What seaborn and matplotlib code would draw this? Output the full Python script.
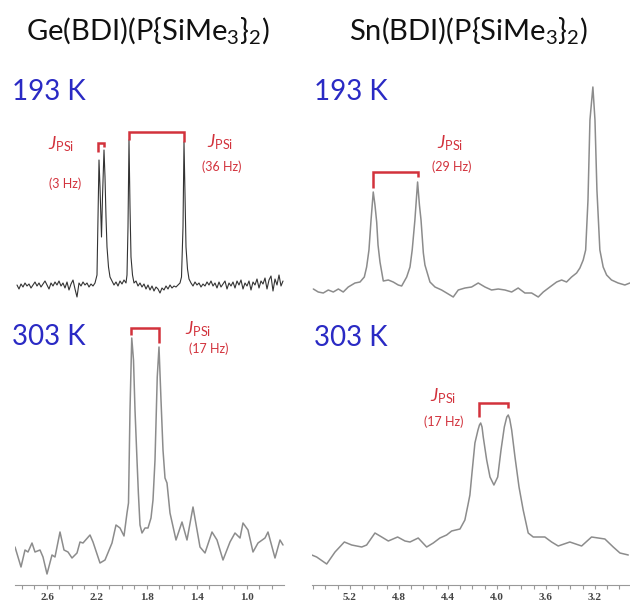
import numpy as np
import matplotlib.pyplot as plt
import seaborn as sns
from matplotlib.ticker import MultipleLocator

# 31P NMR traces (chemical shift in ppm, intensity in arbitrary units)
ge193_ppm = [2.840, 2.824, 2.808, 2.792, 2.776, 2.760, 2.744, 2.728, 2.712, 2.696,
             2.680, 2.664, 2.648, 2.632, 2.616, 2.600, 2.584, 2.568, 2.552, 2.536,
             2.520, 2.504, 2.488, 2.472, 2.456, 2.440, 2.424, 2.408, 2.392, 2.376,
             2.360, 2.344, 2.328, 2.312, 2.296, 2.280, 2.264, 2.248, 2.232, 2.216,
             2.200, 2.192, 2.184, 2.176, 2.164, 2.156, 2.144, 2.136, 2.128, 2.120,
             2.108, 2.096, 2.080,
             2.064, 2.048, 2.032, 2.016, 2.000, 1.984, 1.968,
             1.960, 1.952, 1.944, 1.936, 1.928, 1.916, 1.904,
             1.888, 1.872, 1.856, 1.840, 1.824, 1.808, 1.792, 1.776, 1.760, 1.744,
             1.728, 1.712, 1.696, 1.680, 1.664, 1.648, 1.632, 1.616, 1.600, 1.584,
             1.568, 1.552, 1.536,
             1.524, 1.512, 1.504, 1.496, 1.488, 1.476, 1.464, 1.448,
             1.432, 1.416, 1.400, 1.384, 1.368, 1.352, 1.336, 1.320, 1.304, 1.288,
             1.272, 1.256, 1.240, 1.224, 1.208, 1.192, 1.176, 1.160, 1.144, 1.128,
             1.112, 1.096, 1.080, 1.064, 1.048, 1.032, 1.016, 1.000, 0.984, 0.968,
             0.952, 0.936, 0.920, 0.904, 0.888, 0.872, 0.856, 0.840, 0.824, 0.808,
             0.792, 0.776, 0.760, 0.744, 0.728, 0.712]
ge193_int = [2, -2, 3, 0, 4, 1, 3, -1, 2, 5,
             1, 4, 0, 3, 6, 2, -2, 4, 1, 5,
             2, 6, 1, 4, -1, 5, -3, 3, 7, -2,
             -10, 4, 1, 5, 2, 4, 0, 3, 1, 4,
             12, 70, 127, 100, 50, 90, 137, 110, 70, 40,
             20, 10, 6,
             2, 5, 1, 6, 3, 7, 4,
             12, 60, 147, 80, 30, 12, 4,
             6, 1, 4, 0, 3, -2, 2, -3, 1, -4,
             0, -2, -6, -1, -3, 1, -2, 2, -1, 1,
             0, 2, 4,
             10, 60, 145, 90, 40, 18, 8, 4,
             1, 5, 2, 4, 0, 3, 1, 5, 2, 6,
             1, 4, -1, 5, 0, 3, 6, -2, 4, 1,
             5, -1, 6, 2, 7, -2, 4, 1, 6, -3,
             5, 2, 8, -1, 6, 3, 9, -2, 7, 11,
             -4, 8, 2, 12, 1, 6]

ge303_ppm = [2.856, 2.808, 2.776, 2.752, 2.720, 2.696, 2.656, 2.632, 2.600, 2.560,
             2.536, 2.496, 2.464, 2.432, 2.400, 2.360, 2.336, 2.312, 2.256, 2.232,
             2.176, 2.136, 2.080, 2.048, 2.016, 1.984, 1.960, 1.948, 1.936, 1.922,
             1.908, 1.896, 1.880, 1.869, 1.856, 1.840, 1.816, 1.792, 1.768, 1.752,
             1.736, 1.718, 1.704, 1.688, 1.672, 1.656, 1.640, 1.616, 1.568, 1.520,
             1.480, 1.432, 1.376, 1.336, 1.280, 1.240, 1.192, 1.136, 1.096, 1.056,
             1.032, 0.992, 0.952, 0.912, 0.856, 0.832, 0.776, 0.736, 0.712]
ge303_int = [38, 18, 35, 33, 42, 33, 35, 28, 11, 30,
             28, 53, 35, 33, 27, 32, 43, 42, 50, 43,
             22, 25, 42, 60, 57, 49, 72, 82, 175, 247,
             225, 175, 125, 92, 60, 52, 57, 57, 67, 85,
             125, 208, 238, 185, 135, 107, 102, 72, 45, 63,
             45, 78, 38, 32, 53, 45, 25, 43, 52, 47,
             62, 55, 33, 42, 47, 53, 27, 45, 40]

sn193_ppm = [5.499, 5.459, 5.418, 5.377, 5.336, 5.295, 5.255, 5.214, 5.159, 5.118,
             5.083, 5.064, 5.045, 5.028, 5.010, 4.996, 4.982, 4.971, 4.955, 4.928,
             4.887, 4.847, 4.806, 4.778, 4.737, 4.710, 4.692, 4.670, 4.648, 4.633,
             4.620, 4.601, 4.588, 4.547, 4.506, 4.452, 4.411, 4.357, 4.316, 4.261,
             4.207, 4.153, 4.098, 4.044, 3.990, 3.935, 3.880, 3.827, 3.772, 3.717,
             3.663, 3.622, 3.568, 3.513, 3.472, 3.432, 3.391, 3.350, 3.323, 3.296,
             3.276, 3.257, 3.241, 3.217, 3.200, 3.184, 3.160, 3.133, 3.105, 3.065,
             3.011, 2.956, 2.915]
sn193_int = [1, -2, -3, 0, -2, 1, -2, 3, 7, 8,
             13, 23, 40, 70, 98, 85, 68, 45, 28, 9,
             10, 8, 5, 4, 13, 23, 40, 70, 108, 85,
             70, 37, 25, 8, 3, 0, -3, -7, 0, 2,
             3, 7, 3, 0, 1, 0, -2, 2, -3, -3,
             -7, -2, 3, 8, 10, 8, 13, 17, 22, 30,
             40, 90, 170, 203, 170, 100, 40, 23, 15, 10,
             7, 5, 7]

sn303_ppm = [5.512, 5.472, 5.390, 5.322, 5.246, 5.186, 5.104, 5.064, 4.996, 4.941,
             4.887, 4.811, 4.751, 4.710, 4.643, 4.574, 4.520, 4.466, 4.411, 4.370,
             4.302, 4.262, 4.237, 4.221, 4.204, 4.180, 4.155, 4.143, 4.133, 4.122,
             4.112, 4.084, 4.057, 4.025, 3.994, 3.967, 3.940, 3.920, 3.908, 3.896,
             3.880, 3.853, 3.820, 3.786, 3.745, 3.704, 3.609, 3.554, 3.500, 3.405,
             3.309, 3.228, 3.119, 3.051, 2.996, 2.928]
sn303_int = [30, 28, 21, 33, 43, 40, 38, 40, 52, 48,
             44, 48, 44, 43, 47, 38, 42, 47, 50, 54,
             56, 65, 80, 90, 112, 142, 155, 160, 162, 158,
             148, 125, 108, 100, 108, 135, 158, 168, 170, 166,
             155, 128, 98, 75, 52, 48, 48, 43, 39, 43,
             39, 48, 46, 38, 32, 30]

ge_ticks = [2.6, 2.2, 1.8, 1.4, 1.0]
sn_ticks = [5.2, 4.8, 4.4, 4.0, 3.6, 3.2]

titles = ["Ge(BDI)(P{SiMe$_3$}$_2$)", "Sn(BDI)(P{SiMe$_3$}$_2$)"]
temps = ["193 K", "303 K"]
# coupling labels: ppm of the bracket legs and the J value
ge193_j = [(2.188, 2.142, "3"), (1.944, 1.502, "36")]
ge303_j = [(1.928, 1.702, "17")]
sn193_j = [(5.010, 4.648, "29")]
sn303_j = [(4.145, 3.913, "17")]

sns.set_theme(style="white")
plt.rcParams['font.family'] = ['Lato', 'DejaVu Sans']
plt.rcParams['mathtext.fontset'] = 'custom'
plt.rcParams['mathtext.rm'] = 'Lato'
plt.rcParams['mathtext.it'] = 'Lato:italic'
plt.rcParams['mathtext.bf'] = 'Lato:bold'

red = '#d2323c'
blue = '#2a2ac4'

fig = plt.figure(figsize=(6.3, 6.06), dpi=100)
ax_ge = fig.add_axes([15 / 630, 21 / 606, 269 / 630, 585 / 606])
ax_sn = fig.add_axes([312 / 630, 21 / 606, 318 / 630, 585 / 606])

# upper (193 K) trace sits on top of the 303 K one
ge_offset = 298
sn_offset = 295

sns.lineplot(x=ge193_ppm, y=np.array(ge193_int) + ge_offset, ax=ax_ge,
             color='#333333', lw=0.8, estimator=None, sort=False)
sns.lineplot(x=ge303_ppm, y=ge303_int, ax=ax_ge,
             color='#8c8c8c', lw=1.1, estimator=None, sort=False)
sns.lineplot(x=sn193_ppm, y=np.array(sn193_int) + sn_offset, ax=ax_sn,
             color='#8c8c8c', lw=1.1, estimator=None, sort=False)
sns.lineplot(x=sn303_ppm, y=sn303_int, ax=ax_sn,
             color='#8c8c8c', lw=1.1, estimator=None, sort=False)


def bracket(ax, x1, x2, top, leg1, leg2):
    ax.plot([x1, x1, x2, x2], [leg1, top, top, leg2], color=red, lw=1.8,
            solid_joinstyle='miter', solid_capstyle='butt')


def jlabel(ax, x, y, hz, x2, y2):
    ax.text(x, y, r"$J_{\mathrm{PSi}}$", color=red, fontsize=13,
            ha='center', va='center')
    ax.text(x2, y2, f"({hz} Hz)", color=red, fontsize=9,
            ha='center', va='center')


# Ge 193 K
bracket(ax_ge, ge193_j[0][0], ge193_j[0][1], 442, 433, 438)
bracket(ax_ge, ge193_j[1][0], ge193_j[1][1], 453, 445, 443)
jlabel(ax_ge, 2.488, 441, ge193_j[0][2], 2.456, 401)
jlabel(ax_ge, 1.216, 443, ge193_j[1][2], 1.200, 418)
# Ge 303 K
bracket(ax_ge, ge303_j[0][0], ge303_j[0][1], 257, 250, 242)
jlabel(ax_ge, 1.392, 256, ge303_j[0][2], 1.304, 236)
# Sn 193 K
bracket(ax_sn, sn193_j[0][0], sn193_j[0][1], 413, 397, 408)
jlabel(ax_sn, 4.384, 442, sn193_j[0][2], 4.368, 418)
# Sn 303 K
bracket(ax_sn, sn303_j[0][0], sn303_j[0][1], 182, 168, 177)
jlabel(ax_sn, 4.441, 189, sn303_j[0][2], 4.433, 163)

for ax, lim, ticks in [(ax_ge, (2.856, 0.704), ge_ticks),
                       (ax_sn, (5.51, 2.914), sn_ticks)]:
    ax.set_xlim(lim)
    ax.set_ylim(0, 585)
    ax.set_yticks([])
    ax.set_xlabel('')
    ax.set_ylabel('')
    ax.set_xticks(ticks)
    ax.set_xticklabels([f"{t:.1f}" for t in ticks])
    ax.xaxis.set_minor_locator(MultipleLocator(0.1))
    ax.tick_params(axis='x', which='both', bottom=True, direction='out',
                   length=3, width=0.8, color='#999999', pad=2.5,
                   labelsize=8, labelcolor='#444444')
    for lab in ax.get_xticklabels():
        lab.set_fontfamily('Liberation Serif')
        lab.set_fontweight('bold')
    for s in ['top', 'left', 'right']:
        ax.spines[s].set_visible(False)
    ax.spines['bottom'].set_color('#999999')
    ax.spines['bottom'].set_linewidth(0.8)
    ax.patch.set_alpha(0)

# titles and temperature labels
H = 606
fig.text(148 / 630, 1 - 40 / H, titles[0], fontsize=21, color='#111111',
         ha='center', va='baseline')
fig.text(468 / 630, 1 - 40 / H, titles[1], fontsize=21, color='#111111',
         ha='center', va='baseline')
fig.text(12 / 630, 1 - 100 / H, temps[0], fontsize=20, color=blue,
         ha='left', va='baseline')
fig.text(314 / 630, 1 - 100 / H, temps[0], fontsize=20, color=blue,
         ha='left', va='baseline')
fig.text(12 / 630, 1 - 345 / H, temps[1], fontsize=20, color=blue,
         ha='left', va='baseline')
fig.text(314 / 630, 1 - 346 / H, temps[1], fontsize=20, color=blue,
         ha='left', va='baseline')

fig.savefig("out.png", dpi=100)
